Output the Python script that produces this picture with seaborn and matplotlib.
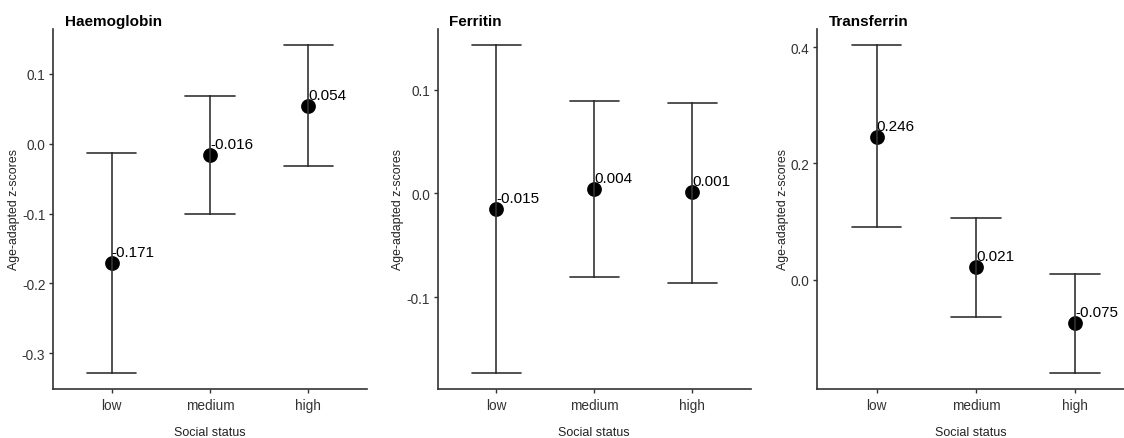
import numpy as np
import pandas as pd
import matplotlib
matplotlib.use("Agg")
import matplotlib.pyplot as plt
import seaborn as sns

# ---- data ----
categories = ["low", "medium", "high"]

hb_mean = [-0.171, -0.016, 0.054]
hb_lower = [-0.328, -0.101, -0.032]
hb_upper = [-0.013, 0.069, 0.141]

fe_mean = [-0.015, 0.004, 0.001]
fe_lower = [-0.173, -0.081, -0.086]
fe_upper = [0.143, 0.089, 0.087]

tf_mean = [0.246, 0.021, -0.075]
tf_lower = [0.090, -0.064, -0.160]
tf_upper = [0.403, 0.106, 0.010]

titles = ["Haemoglobin", "Ferritin", "Transferrin"]
yticks_list = [[-0.3, -0.2, -0.1, 0.0, 0.1], [-0.1, 0.0, 0.1], [0.0, 0.2, 0.4]]

sns.set_theme(style="ticks")
plt.rcParams["font.family"] = ["Liberation Sans", "DejaVu Sans"]

fig = plt.figure(figsize=(11.24, 4.39), dpi=100)
W, H = 1124, 439
rects = [(53, 314), (437.5, 313.5), (817, 307)]
xlims = [(-0.6, 2.6), (-0.6, 2.6), (-0.6, 2.49)]
panels = [(hb_mean, hb_lower, hb_upper), (fe_mean, fe_lower, fe_upper), (tf_mean, tf_lower, tf_upper)]

gray = "#333333"
for i, ((m, lo, up), title, yt) in enumerate(zip(panels, titles, yticks_list)):
    left, width = rects[i]
    ax = fig.add_axes([left / W, 49 / H, width / W, 360 / H])
    df = pd.DataFrame({
        "status": categories * 3,
        "value": list(lo) + list(m) + list(up),
    })
    df["status"] = pd.Categorical(df["status"], categories=categories, ordered=True)
    sns.pointplot(data=df, x="status", y="value", estimator="median",
                  errorbar=("pi", 100), capsize=0.5, color="black",
                  linestyle="none", marker="o", markersize=8.6,
                  err_kws={"color": gray, "linewidth": 1.2}, ax=ax)
    for j, (cat, val) in enumerate(zip(categories, m)):
        ax.annotate(f"{val:.3f}", xy=(j, val), xytext=(0, 5), textcoords="offset points",
                    ha="left", va="baseline", fontsize=11, color="black")
    ax.set_xlim(*xlims[i])
    ax.set_yticks(yt)
    ax.set_yticklabels([f"{v:.1f}" for v in yt])
    ax.set_xlabel("Social status", fontsize=9, color="#222222", labelpad=10)
    ax.set_ylabel("Age-adapted z-scores", fontsize=8.9, color="#222222", labelpad=1.5)
    ax.tick_params(axis="both", labelsize=9.8, colors=gray, length=3, width=1.0, pad=2.5)
    ax.tick_params(axis="x", pad=3.5)
    for s in ["left", "bottom"]:
        ax.spines[s].set_color(gray)
        ax.spines[s].set_linewidth(1.2)
    sns.despine(ax=ax)
    ax.text(12 / width, 1 + 4 / 360, title, transform=ax.transAxes, ha="left",
            va="baseline", fontsize=11, fontweight="bold", color="black")

fig.savefig("out.png", dpi=100)
